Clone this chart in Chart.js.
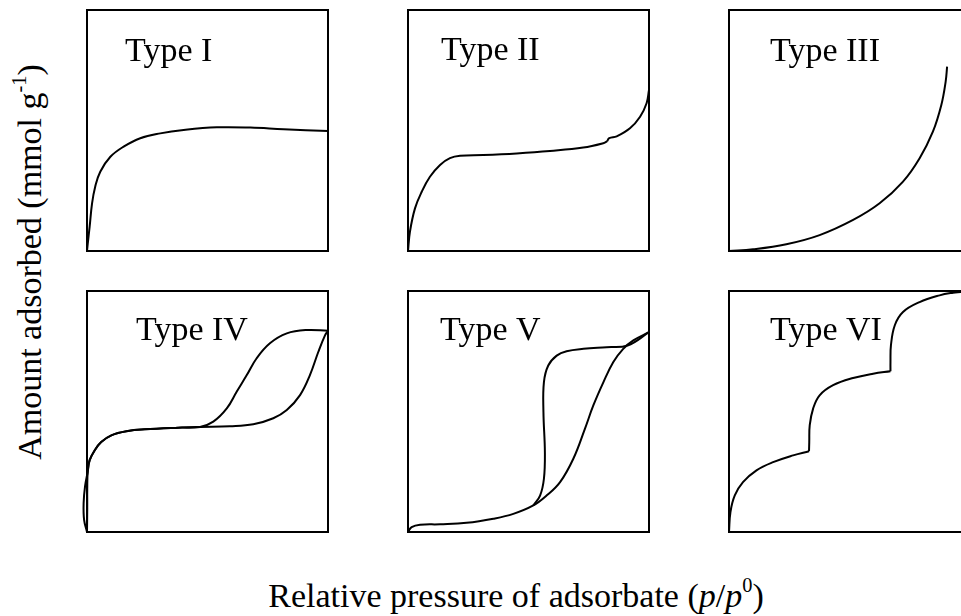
<!DOCTYPE html>
<html>
<head>
<meta charset="utf-8">
<script src="https://cdn.jsdelivr.net/npm/chart.js@4.4.1/dist/chart.umd.min.js"></script>
<style>
  html, body { margin: 0; padding: 0; background: #fff; overflow: hidden; }
  body { width: 961px; height: 616px; position: relative; font-family: "Liberation Serif", "Times New Roman", serif; color: #000; }
  .panel { position: absolute; width: 253px; height: 253px; }
  .titulo { position: absolute; font-size: 34px; line-height: 34px; white-space: nowrap; }
  sup { font-size: 60%; vertical-align: 0; position: relative; top: -0.75em; }
</style>
</head>
<body>
<div class="panel" style="left:81px;top:4px"><canvas id="g1" width="253" height="253"></canvas></div>
<div class="panel" style="left:402px;top:4px"><canvas id="g2" width="253" height="253"></canvas></div>
<div class="panel" style="left:723px;top:4px"><canvas id="g3" width="253" height="253"></canvas></div>
<div class="panel" style="left:81px;top:285px"><canvas id="g4" width="253" height="253"></canvas></div>
<div class="panel" style="left:402px;top:285px"><canvas id="g5" width="253" height="253"></canvas></div>
<div class="panel" style="left:723px;top:285px"><canvas id="g6" width="253" height="253"></canvas></div>

<div class="titulo" style="left:216px;top:579px;width:600px;text-align:center">Relative pressure of adsorbate (<i>p</i>/<i>p</i><sup>0</sup>)</div>
<div class="titulo" style="left:-218px;top:243px;width:500px;text-align:center;transform:rotate(-90deg)">Amount adsorbed (mmol g<sup>-1</sup>)</div>

<script>
// Valores normalizados (0..1): presión relativa (x) y cantidad adsorbida (y)
const tipos = ['Type I', 'Type II', 'Type III', 'Type IV', 'Type V', 'Type VI'];

const tipo1X = [0, 0.003, 0.011, 0.021, 0.034, 0.055, 0.097, 0.152, 0.221, 0.304, 0.401, 0.539, 0.678, 0.816, 1];
const tipo1Y = [0, 0.03, 0.101, 0.198, 0.267, 0.329, 0.391, 0.433, 0.468, 0.488, 0.502, 0.513, 0.512, 0.505, 0.498];

const tipo2aX = [0, 0.008, 0.029, 0.057, 0.091, 0.133, 0.174, 0.216, 0.312, 0.451, 0.589, 0.727, 0.81, 0.826];
const tipo2aY = [0, 0.08, 0.177, 0.246, 0.308, 0.357, 0.385, 0.395, 0.398, 0.405, 0.415, 0.429, 0.447, 0.455];
const tipo2bX = [0.826, 0.835, 0.866, 0.921, 0.963, 0.99, 1];
const tipo2bY = [0.455, 0.468, 0.476, 0.509, 0.557, 0.613, 0.668];

const tipo3X = [0, 0.1, 0.238, 0.376, 0.515, 0.625, 0.722, 0.791, 0.846, 0.881, 0.899, 0.905];
const tipo3Y = [0, 0.007, 0.028, 0.066, 0.129, 0.198, 0.288, 0.385, 0.495, 0.606, 0.703, 0.765];

// Tipo IV: adsorción y desorción (comparten la meseta hasta p/p0 ~ 0.47)
const tipo4adsX = [0, 0.001, 0.001, 0.003, 0.011, 0.032, 0.059, 0.101, 0.17, 0.239, 0.378, 0.469, 0.593, 0.69, 0.773, 0.829, 0.884, 0.925, 0.96, 0.988, 1];
const tipo4adsY = [0, 0.1, 0.18, 0.25, 0.298, 0.339, 0.373, 0.401, 0.419, 0.426, 0.433, 0.436, 0.439, 0.447, 0.472, 0.506, 0.568, 0.651, 0.748, 0.817, 0.835];
const tipo4desX = [1, 0.911, 0.829, 0.759, 0.704, 0.663, 0.621, 0.58, 0.524, 0.469, 0.378, 0.239, 0.17, 0.101, 0.059, 0.032, 0.011, 0.003, -0.008, -0.014, -0.012, 0];
const tipo4desY = [0.835, 0.838, 0.824, 0.783, 0.721, 0.651, 0.582, 0.513, 0.458, 0.436, 0.433, 0.426, 0.419, 0.401, 0.373, 0.339, 0.298, 0.25, 0.19, 0.12, 0.05, 0];

// Tipo V: adsorción y desorción
const tipo5adsX = [0, 0.015, 0.05, 0.133, 0.243, 0.354, 0.437, 0.52, 0.575, 0.631, 0.686, 0.734, 0.769, 0.811, 0.852, 0.893, 0.935, 1];
const tipo5adsY = [0, 0.02, 0.03, 0.032, 0.038, 0.055, 0.075, 0.11, 0.151, 0.207, 0.304, 0.428, 0.525, 0.622, 0.705, 0.76, 0.795, 0.829];
const tipo5desX = [1, 0.911, 0.824, 0.728, 0.658, 0.617, 0.582, 0.564, 0.562, 0.568, 0.564, 0.548, 0.52];
const tipo5desY = [0.829, 0.774, 0.767, 0.76, 0.75, 0.732, 0.691, 0.622, 0.497, 0.331, 0.221, 0.151, 0.11];

// Tipo VI: escalones
const tipo6aX = [0, 0.006, 0.024, 0.058, 0.114, 0.183, 0.266, 0.332];
const tipo6aY = [0, 0.083, 0.152, 0.207, 0.256, 0.29, 0.318, 0.335];
const tipo6bX = [0.332, 0.333, 0.335, 0.349, 0.376, 0.432, 0.515, 0.598, 0.67];
const tipo6bY = [0.335, 0.373, 0.443, 0.512, 0.567, 0.609, 0.639, 0.657, 0.667];
const tipo6cX = [0.67, 0.67, 0.672, 0.688, 0.722, 0.791, 0.874, 0.93, 0.961, 1];
const tipo6cY = [0.667, 0.705, 0.775, 0.858, 0.913, 0.954, 0.982, 0.993, 0.996, 1];

// posición del rótulo dentro de cada panel [dx, dy desde la esquina superior izquierda]
const posRotulos = [[38, 51], [33, 50], [41, 51], [49, 49], [32, 49], [41, 49]];

function puntos(xs, ys) {
    return xs.map((x, i) => ({ x: x, y: ys[i] }));
}

const series = [
    [puntos(tipo1X, tipo1Y)],
    [puntos(tipo2aX, tipo2aY), puntos(tipo2bX, tipo2bY)],
    [puntos(tipo3X, tipo3Y)],
    [puntos(tipo4adsX, tipo4adsY), puntos(tipo4desX, tipo4desY)],
    [puntos(tipo5adsX, tipo5adsY), puntos(tipo5desX, tipo5desY)],
    [puntos(tipo6aX, tipo6aY), puntos(tipo6bX, tipo6bY), puntos(tipo6cX, tipo6cY)]
];

// Marco del panel y rótulo "Type ..."
const marcoPlugin = {
    id: 'marco',
    beforeDatasetsDraw(chart, args, opts) {
        const a = chart.chartArea;
        const ctx = chart.ctx;
        ctx.save();
        ctx.strokeStyle = '#000';
        ctx.lineWidth = 2;
        ctx.strokeRect(a.left, a.top, a.right - a.left, a.bottom - a.top);
        ctx.fillStyle = '#000';
        ctx.font = '34px "Liberation Serif", "Times New Roman", serif';
        ctx.textBaseline = 'alphabetic';
        ctx.fillText(opts.texto, a.left + opts.dx, a.top + opts.dy);
        ctx.restore();
    }
};

tipos.forEach((nombre, i) => {
    const ctx = document.getElementById('g' + (i + 1)).getContext('2d');
    new Chart(ctx, {
        type: 'scatter',
        data: {
            datasets: series[i].map(d => ({
                data: d,
                showLine: true,
                borderColor: '#000',
                borderWidth: 2,
                pointRadius: 0,
                tension: 0.4,
                fill: false,
                clip: false
            }))
        },
        options: {
            responsive: false,
            animation: false,
            layout: { padding: 6 },
            plugins: {
                legend: { display: false },
                tooltip: { enabled: false },
                marco: { texto: nombre, dx: posRotulos[i][0], dy: posRotulos[i][1] }
            },
            scales: {
                x: { type: 'linear', min: 0, max: 1, display: false },
                y: { type: 'linear', min: 0, max: 1, display: false }
            }
        },
        plugins: [marcoPlugin]
    });
});
</script>
</body>
</html>
